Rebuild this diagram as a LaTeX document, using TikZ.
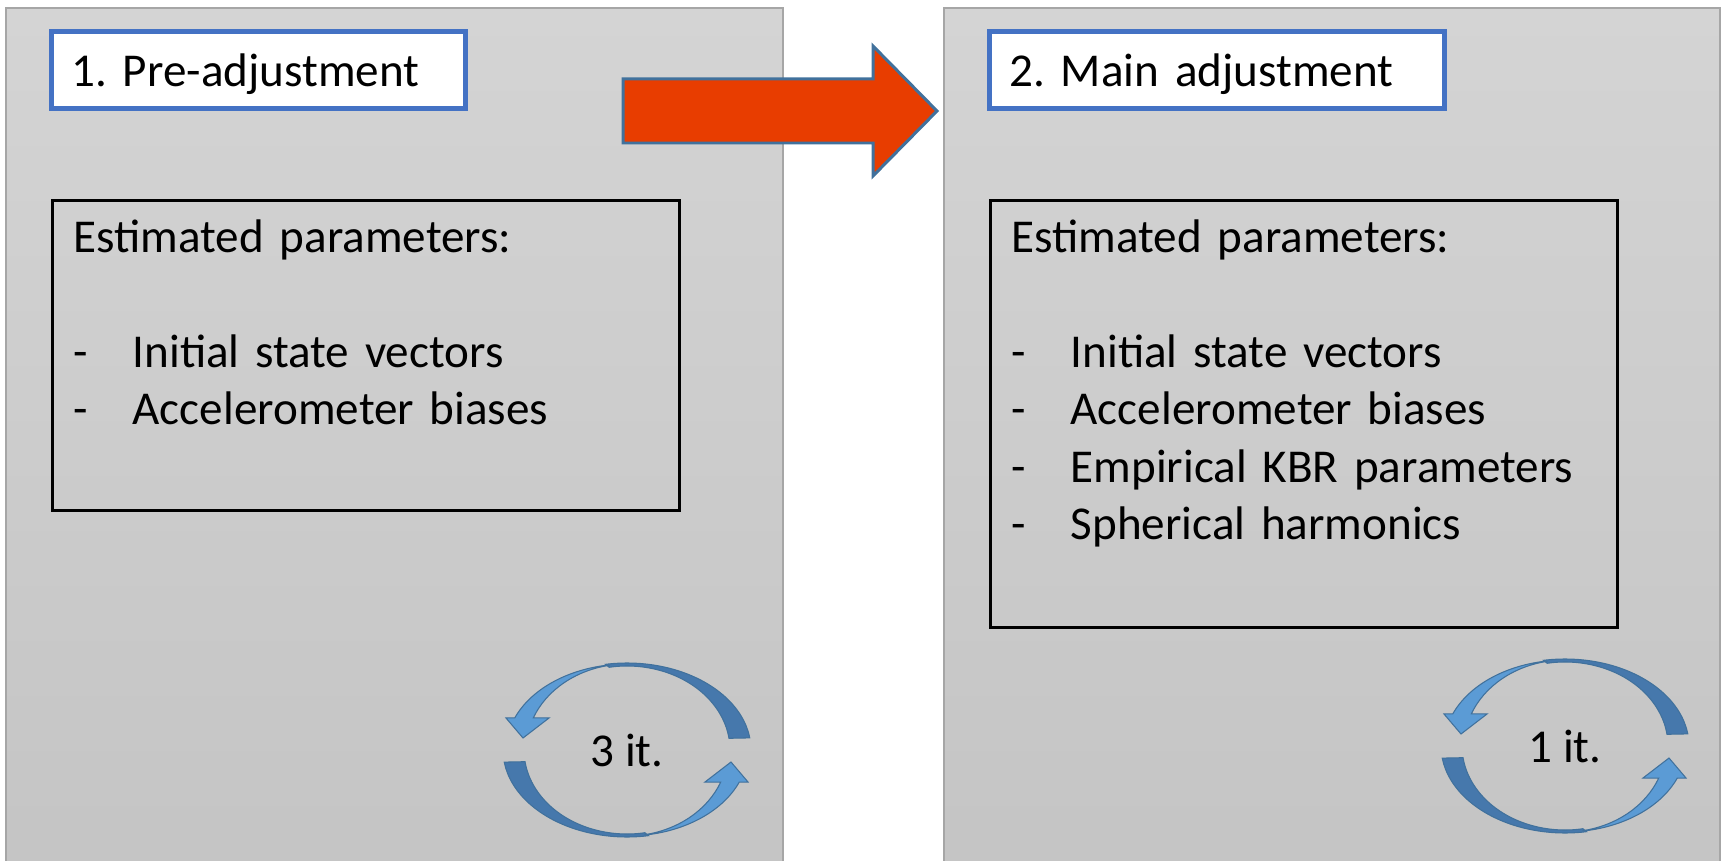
\documentclass[tikz,border=0pt]{standalone}
\usepackage{xcolor}
\usepackage{fontspec}
\setmainfont{Carlito}
\usepackage{tikz}

\definecolor{panelTop}{RGB}{212,212,212}
\definecolor{panelBottom}{RGB}{196,196,196}
\definecolor{titleBlue}{RGB}{68,114,196}
\definecolor{arrowRed}{RGB}{232,61,0}
\definecolor{edgeBlue}{RGB}{65,113,156}
\definecolor{loopLight}{RGB}{91,155,213}
\definecolor{loopDark}{RGB}{70,120,172}

\newcommand{\dashitem}{\makebox[0.59cm][l]{-}}
\frenchspacing

\tikzset{
    panel/.style={draw=black!35, line width=0.5pt, top color=panelTop, bottom color=panelBottom, anchor=north west, minimum height=8.8cm},
    titlebox/.style={draw=titleBlue, line width=1.4pt, fill=white, anchor=north west, align=left, inner xsep=0.2cm, inner ysep=0.05cm, minimum height=0.77cm, text height=0.44cm, text depth=0.1cm},
    parambox/.style={draw, line width=0.8pt, anchor=north west, minimum width=6.27cm},
    paramtext/.style={anchor=base west, inner sep=0pt, text width=6cm, align=left},
    loopback/.style={fill=loopDark, draw=edgeBlue, line width=0.3pt},
    loopfront/.style={fill=loopLight, draw=edgeBlue, line width=0.3pt},
    % two curved arrows chasing each other round an ellipse
    iterloop/.pic={
        \foreach \r in {0,180} {
            \begin{scope}[rotate=\r]
                \draw[loopback] (-8:124 and 87) arc[start angle=-8, end angle=-100, x radius=124, y radius=87]
                    -- (-100:103 and 84) arc[start angle=-100, end angle=-8, x radius=103, y radius=84] -- cycle;
                \draw[loopfront] (-100:121 and 86) arc[start angle=-100, end angle=-158, x radius=121, y radius=86]
                    -- (-121,-32) -- (-104,-12) -- (-78,-32)
                    -- (-158:101 and 86) arc[start angle=-158, end angle=-100, x radius=101, y radius=86] -- cycle;
            \end{scope}
        }
    }
}

\begin{document}
\begin{tikzpicture}[x=0.01cm, y=-0.01cm, every node/.style={font=\fontsize{13.4}{16.3}\selectfont}]
    \useasboundingbox (0,0) rectangle (1721,861);
    \clip (0,0) rectangle (1721,861);

    % Stage panels
    \node[panel, minimum width=7.77cm] (preStage) at (5,7) {};
    \node[panel, minimum width=7.76cm] (mainStage) at (943,7) {};

    % Stage titles
    \node[titlebox, text width=3.74cm] (preTitle) at (49,29) {1. Pre-adjustment};
    \node[titlebox, text width=4.15cm] (mainTitle) at (987,29) {2. Main adjustment};

    % Estimated parameters
    \node[parambox, minimum height=3.10cm] (preBox) at (51,199) {};
    \node[parambox, minimum height=4.27cm] (mainBox) at (989,199) {};
    \node[paramtext] (preList) at ([shift={(22,54)}]preBox.north west)
        {Estimated parameters:\\[\baselineskip]
         \dashitem Initial state vectors\\
         \dashitem Accelerometer biases};
    \node[paramtext] (mainList) at ([shift={(22,54)}]mainBox.north west)
        {Estimated parameters:\\[\baselineskip]
         \dashitem Initial state vectors\\
         \dashitem Accelerometer biases\\
         \dashitem Empirical KBR parameters\\
         \dashitem Spherical harmonics};

    % Hand-over arrow
    \draw[fill=arrowRed, draw=edgeBlue, line width=0.85pt]
        (623,79) -- (873,79) -- (873,46) -- (937,111) -- (873,176) -- (873,143) -- (623,143) -- cycle;

    % Iterations
    \pic at (627,750) {iterloop};
    \node (preIter) at (627,750) {3 it.};
    \pic at (1565,746) {iterloop};
    \node (mainIter) at (1565,746) {1 it.};
\end{tikzpicture}
\end{document}
